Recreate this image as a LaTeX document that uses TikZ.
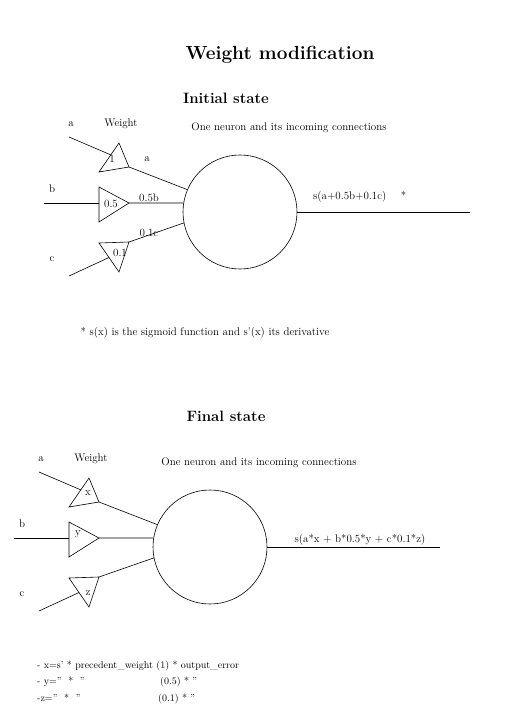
\documentclass[tikz,border=0pt]{standalone}
\usetikzlibrary{calc}
\tikzset{
wire/.style={draw, line width=0.6pt},
neuron/.style={draw, circle, line width=0.6pt, minimum size=114pt, inner sep=0pt},
txt/.style={inner sep=0pt, font=\fontsize{11}{13}\selectfont},
rule/.style={inner sep=0pt, font=\fontsize{10}{12}\selectfont},
heading/.style={inner sep=0pt, font=\fontsize{15}{18}\selectfont\bfseries},
pagetitle/.style={inner sep=0pt, font=\fontsize{19}{22}\selectfont\bfseries}
}
\begin{document}
\begin{tikzpicture}[x=1pt,y=-1pt]
\useasboundingbox (0,0) rectangle (504,711);
\node[pagetitle] (title) at (280,55) {Weight modification};

% initial state
\node[heading] (init) at (226,98) {Initial state};
\node[txt] (ia) at (71,124) {a};
\node[txt] (iw) at (121,124) {Weight};
\node[txt] (ione) at (289,128) {One neuron and its incoming connections};
\node[neuron] (n1) at (240,212) {};
\coordinate (t1a) at (119,143); \coordinate (t1b) at (99,172); \coordinate (t1c) at (129,167);
\coordinate (t2a) at (99,187); \coordinate (t2b) at (99,222); \coordinate (t2c) at (129,203);
\coordinate (t3a) at (99,243); \coordinate (t3b) at (129,242); \coordinate (t3c) at (119,272);
\coordinate (in1) at (69,137); \coordinate (in2) at (44,203); \coordinate (in3) at (69,276);
\coordinate (out1) at (470,212);
\draw[wire] (t1a) -- (t1b) -- (t1c) -- cycle;
\draw[wire] (t2a) -- (t2b) -- (t2c) -- cycle;
\draw[wire] (t3a) -- (t3b) -- (t3c) -- cycle;
\draw[wire] (in1) -- ($(t1a)!0.41!(t1b)$);
\draw[wire] (in2) -- (t2a |- in2);
\draw[wire] (in3) -- ($(t3a)!0.5!(t3c)$);
\draw[wire] (t1c) -- (n1.157);
\draw[wire] (t2c) -- (n1.171);
\draw[wire] (t3b) -- (n1.191);
\draw[wire] (n1.east) -- (out1);
\node[txt] (w1) at (112,159) {1};
\node[txt] (w2) at (111,204) {0.5};
\node[txt] (w3) at (120,253) {0.1};
\node[txt] (p1) at (147,159) {a};
\node[txt] (p2) at (149,198) {0.5b};
\node[txt] (p3) at (149,233) {0.1c};
\node[txt] (ib) at (52,189) {b};
\node[txt] (ic) at (52,259) {c};
\node[txt, anchor=west] (isum) at (313,197) {s(a+0.5b+0.1c)\quad\ *};
\node[txt] (note) at (205,333) {* s(x) is the sigmoid function and s'(x) its derivative};

% final state
\node[heading] (fin) at (226,416) {Final state};
\begin{scope}[shift={(-30,335)}]
\node[txt] (fa) at (71,124) {a};
\node[txt] (fw) at (121,124) {Weight};
\node[txt] (fone) at (289,128) {One neuron and its incoming connections};
\node[neuron] (n2) at (240,212) {};
\coordinate (u1a) at (119,143); \coordinate (u1b) at (99,172); \coordinate (u1c) at (129,167);
\coordinate (u2a) at (99,187); \coordinate (u2b) at (99,222); \coordinate (u2c) at (129,203);
\coordinate (u3a) at (99,243); \coordinate (u3b) at (129,242); \coordinate (u3c) at (119,272);
\coordinate (jn1) at (69,137); \coordinate (jn2) at (44,203); \coordinate (jn3) at (69,276);
\coordinate (out2) at (470,212);
\draw[wire] (u1a) -- (u1b) -- (u1c) -- cycle;
\draw[wire] (u2a) -- (u2b) -- (u2c) -- cycle;
\draw[wire] (u3a) -- (u3b) -- (u3c) -- cycle;
\draw[wire] (jn1) -- ($(u1a)!0.41!(u1b)$);
\draw[wire] (jn2) -- (u2a |- jn2);
\draw[wire] (jn3) -- ($(u3a)!0.5!(u3c)$);
\draw[wire] (u1c) -- (n2.157);
\draw[wire] (u2c) -- (n2.171);
\draw[wire] (u3b) -- (n2.191);
\draw[wire] (n2.east) -- (out2);
\node[txt] (vx) at (118,158) {x};
\node[txt] (vy) at (108,199) {y};
\node[txt] (vz) at (118,258) {z};
\node[txt] (fb) at (52,189) {b};
\node[txt] (fc) at (52,259) {c};
\node[txt] (fsum) at (390,205) {s(a*x + b*0.5*y + c*0.1*z)};
\end{scope}
\node[rule, anchor=base west] (r1) at (37,668) {- x=s' * precedent\_weight (1) * output\_error};
\node[rule, anchor=base west] (r2) at (37,684) {- y='' \ * \ ''};
\node[rule, anchor=base west] (r2b) at (160,684) {(0.5) * ''};
\node[rule, anchor=base west] (r3) at (37,701) {-z=" \ * \ "};
\node[rule, anchor=base west] (r3b) at (158,701) {(0.1) * "};
\end{tikzpicture}
\end{document}
